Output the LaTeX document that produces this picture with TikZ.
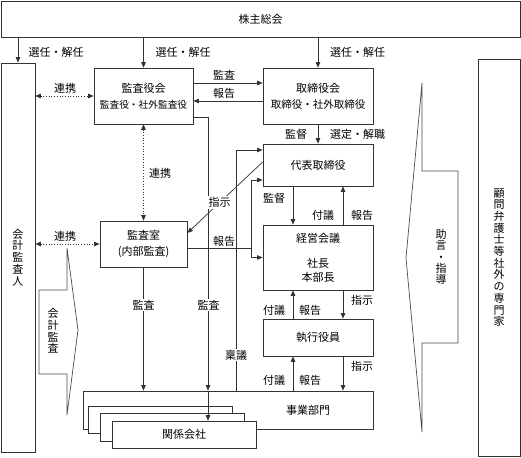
\documentclass[tikz,border=0pt]{standalone}
\usepackage{fontspec}
\setmainfont{Noto Sans CJK JP}
\usetikzlibrary{arrows.meta}
\begin{document}
\begin{tikzpicture}[x=1pt,y=-1pt,
  ln/.style={draw=black!80, line width=0.7pt},
  arr/.style={ln, -{Triangle[length=5.5pt,width=4.5pt]}},
  darr/.style={ln, dotted, {Triangle[length=5.5pt,width=4.5pt]}-{Triangle[length=5.5pt,width=4.5pt]}},
  box/.style={ln, fill=white, inner sep=0pt, align=center, font=\fontsize{11}{16}\selectfont},
  lab/.style={inner sep=1pt, font=\fontsize{11}{13}\selectfont},
  wlab/.style={lab, fill=white},
  vtxt/.style={inner sep=0pt, align=center, font=\fontsize{11}{11.7}\selectfont},
  callout/.style={draw=black!70, line width=0.7pt, fill=white}
]
\useasboundingbox (0,0) rectangle (521,457);

% boxes
\node[box, minimum width=519, minimum height=36] (kabu) at (260.5,19) {株主総会};
\node[box, minimum width=34, minimum height=389, font=\fontsize{11}{11.8}\selectfont] (kaikei) at (18,257.5) {会\\計\\監\\査\\人};
\node[box, minimum width=42, minimum height=397, font=\fontsize{11}{11.7}\selectfont] (komon) at (499,257.5) {顧\\問\\弁\\護\\士\\等\\社\\外\\の\\専\\門\\家};
\node[box, minimum width=99, minimum height=56] (kansayakukai) at (143.5,96) {監査役会\\{\fontsize{9.7}{11}\selectfont 監査役・社外監査役}};
\node[box, minimum width=110, minimum height=56] (torikai) at (318,96) {取締役会\\{\fontsize{10.5}{11}\selectfont 取締役・社外取締役}};
\node[box, minimum width=110, minimum height=42] (daihyo) at (318,165) {代表取締役};
\node[box, minimum width=87, minimum height=46] (kansashitsu) at (143.5,244) {監査室\\(内部監査)};
\node[box, minimum width=110, minimum height=65, font=\fontsize{11}{14}\selectfont] (keiei) at (318,257.5) {経営会議\\[11pt]社長\\本部長};
\node[box, minimum width=110, minimum height=37] (shikko) at (318,337.5) {執行役員};
\node[box, minimum width=290, minimum height=38] (jigyo) at (228,410) {};
\node[lab] (jigyolab) at (308,410) {事業部門};
\node[box, minimum width=144, minimum height=27] (kk1) at (160,419.5) {};
\node[box, minimum width=144, minimum height=28] (kk2) at (172,427) {};
\node[box, minimum width=144, minimum height=27] (kk3) at (184,434.5) {関係会社};

% callout arrows
\draw[callout] (67,248) -- (78,330) -- (67,415) -- (67,374) -- (39,374) -- (39,290) -- (67,290) -- cycle;
\node[vtxt, font=\fontsize{11}{11.75}\selectfont] (kaikeikansa) at (53,331) {会\\計\\監\\査};
\draw[callout] (422,83) -- (406,258) -- (422,432) -- (422,343) -- (458,343) -- (458,171) -- (422,171) -- cycle;
\node[vtxt, font=\fontsize{11}{11.4}\selectfont] (jogen) at (441,257) {助\\言\\・\\指\\導};

% coordinates for vertical runs
\coordinate (audx) at (208,0);
\coordinate (ringx) at (236,0);
\coordinate (repx) at (251,0);

% election arrows
\draw[arr] (kabu.south -| kaikei.north) -- (kaikei.north);
\node[lab] (sen1) at (56,52) {選任・解任};
\draw[arr] (kabu.south -| kansayakukai.north) -- (kansayakukai.north);
\node[lab] (sen2) at (183,52) {選任・解任};
\draw[arr] (kabu.south -| torikai.north) -- (torikai.north);
\node[lab] (sen3) at (357.5,52) {選任・解任};

% renkei
\draw[darr] (kaikei.east |- kansayakukai.west) -- (kansayakukai.west);
\node[lab] (ren1) at (65,88) {連携};
\draw[darr] (kansayakukai.south) -- (kansashitsu.north);
\node[lab] (ren2) at (160,173) {連携};
\draw[darr] (kaikei.east |- kansashitsu.west) -- (kansashitsu.west);
\node[lab] (ren3) at (65,236) {連携};

% audit / report between boards
\draw[arr] ([yshift=13pt]kansayakukai.east) -- ([yshift=13pt]torikai.west);
\node[lab] (kansa1) at (224,75) {監査};
\draw[arr] ([yshift=-5pt]torikai.west) -- ([yshift=-5pt]kansayakukai.east);
\node[lab] (hok1) at (224,93) {報告};

% kansayakukai audit line to group companies
\draw[arr] ([yshift=-21pt]kansayakukai.east) -| (audx |- jigyo.north);
\draw[arr] (audx |- jigyo.north) -- (audx |- kk3.north);
\node[wlab] (kansa3) at (208.5,305) {監査};

% internal audit
\draw[arr] (kansashitsu.south) -- (kansashitsu.south |- jigyo.north);
\node[wlab] (kansa2) at (143.5,305) {監査};

% torikai -> daihyo
\draw[arr] (torikai.south) -- (daihyo.north);
\node[lab] (kantoku1) at (296,134) {監督};
\node[lab] (sentei) at (357.5,134) {選定・解職};

% shiji diagonal
\draw[arr] ([yshift=3pt]daihyo.west) -- node[wlab, pos=0.57] (shiji0) {指示} ([yshift=11pt]kansashitsu.east);

% report from kansashitsu
\draw[ln] ([yshift=-4pt]kansashitsu.east) -- (repx |- 0,248);
\draw[arr] (repx |- keiei.west) |- ([yshift=-15pt]daihyo.west);
\draw[arr] (repx |- keiei.west) -- (keiei.west);
\node[lab] (hok2) at (224,241) {報告};

% ringi
\draw[arr] (ringx |- jigyo.north) |- ([yshift=15pt]daihyo.west);
\node[wlab] (ringi) at (236,355) {稟議};

% daihyo <-> keiei
\draw[arr] ([xshift=-25pt]daihyo.south) -- ([xshift=-25pt]keiei.north);
\node[lab] (kantoku2) at (274,198) {監督};
\draw[arr] ([xshift=25pt]keiei.north) -- ([xshift=25pt]daihyo.south);
\node[lab] (fugi1) at (323,215) {付議};
\node[lab] (hok3) at (362,215) {報告};

% keiei <-> shikko
\draw[arr] ([xshift=-25pt]shikko.north) -- ([xshift=-25pt]keiei.south);
\node[lab] (fugi2) at (274,310) {付議};
\node[lab] (hok4) at (310,310) {報告};
\draw[arr] ([xshift=25pt]keiei.south) -- ([xshift=25pt]shikko.north);
\node[lab] (shiji1) at (362,300) {指示};

% shikko <-> jigyo
\draw[arr] ([xshift=-25pt]shikko.south |- jigyo.north) -- ([xshift=-25pt]shikko.south);
\node[lab] (fugi3) at (274,380) {付議};
\node[lab] (hok5) at (310,380) {報告};
\draw[arr] ([xshift=25pt]shikko.south) -- ([xshift=25pt]shikko.south |- jigyo.north);
\node[lab] (shiji2) at (362,366) {指示};
\end{tikzpicture}
\end{document}
